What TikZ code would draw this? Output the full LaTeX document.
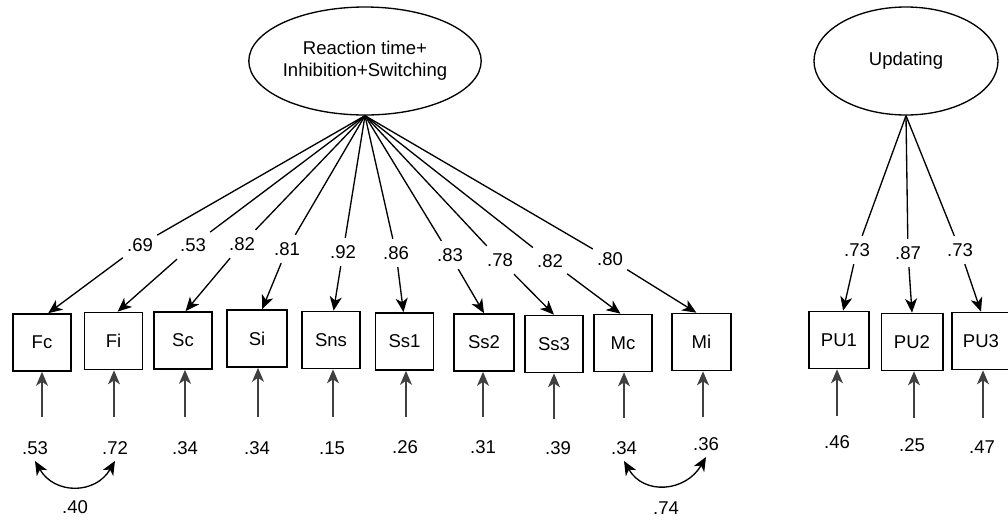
\documentclass[tikz,border=0pt]{standalone}
\usepackage{fontspec}
\setmainfont{Liberation Sans}
\usetikzlibrary{arrows.meta,shapes.geometric}
\begin{document}
\begin{tikzpicture}[x=0.75pt,y=-0.75pt,
  every node/.style={font=\fontsize{13.9}{16.5}\selectfont},
  latent/.style={draw, ellipse, line width=1pt, minimum width=138pt,
    minimum height=81pt, inner sep=0pt, align=center},
  obs/.style={draw, rectangle, line width=1.25pt, minimum width=43.5pt,
    minimum height=42.75pt, inner sep=0pt},
  load/.style={inner xsep=3pt, inner ysep=5.5pt},
  errlab/.style={inner xsep=1pt, inner ysep=4.6pt},
  lnk/.style={line width=1pt},
  arr/.style={line width=1pt, -{Stealth[length=10.5pt,width=9pt,inset=3pt]}},
  earr/.style={line width=1pt, black!75, -{Stealth[length=10.5pt,width=9pt,inset=3pt]}},
  cov/.style={line width=1pt, {Stealth[length=10.5pt,width=9pt,inset=3pt]}-{Stealth[length=10.5pt,width=9pt,inset=3pt]}}
]
% canvas
\fill[white] (0,0) rectangle (1008,519);
\useasboundingbox (0,0) rectangle (1008,519);

% latent factors
\node[latent] (RT) at (365,61) {Reaction time+\\Inhibition+Switching};
\node[latent] (UP) at (906,61) {Updating};

% observed indicators
\node[obs] (Fc)  at (42,342.5)  {Fc};
\node[obs] (Fi)  at (113.5,341) {Fi};
\node[obs] (Sc)  at (183,340.5) {Sc};
\node[obs, minimum width=45pt] (Si) at (257,338.5) {Si};
\node[obs] (Sns) at (331,340)   {Sns};
\node[obs] (Ss1) at (404.5,341.5) {Ss1};
\node[obs, minimum width=45pt] (Ss2) at (484,342.5) {Ss2};
\node[obs] (Ss3) at (554,344)   {Ss3};
\node[obs] (Mc)  at (623,343)   {Mc};
\node[obs, minimum width=44pt] (Mi) at (701.5,342) {Mi};
\node[obs, minimum width=45pt] (PU1) at (839,340) {PU1};
\node[obs, minimum width=46pt] (PU2) at (912,342) {PU2};
\node[obs] (PU3) at (981,341)   {PU3};

% factor loadings
\node[load] (l1)  at (140,245) {.69};
\node[load] (l2)  at (193,245) {.53};
\node[load] (l3)  at (242,244) {.82};
\node[load] (l4)  at (287,249) {.81};
\node[load] (l5)  at (343,252) {.92};
\node[load] (l6)  at (396,253) {.86};
\node[load] (l7)  at (450,255) {.83};
\node[load] (l8)  at (500,260) {.78};
\node[load] (l9)  at (550,261) {.82};
\node[load] (l10) at (610,259) {.80};
\node[load] (m1)  at (857,250) {.73};
\node[load] (m2)  at (908,253) {.87};
\node[load] (m3)  at (960,250) {.73};

\foreach \l/\b in {l1/Fc.78, l2/Fi.82, l3/Sc.85, l4/Si.80, l5/Sns.85,
                   l6/Ss1.92, l7/Ss2.north, l8/Ss3.north, l9/Mc.95, l10/Mi.100}{
  \draw[lnk] (RT.south) -- (\l);
  \draw[arr] (\l) -- (\b);
}
\foreach \l/\b in {m1/PU1.82, m2/PU2.north, m3/PU3.north}{
  \draw[lnk] (UP.south) -- (\l);
  \draw[arr] (\l) -- (\b);
}

% residual variances
\node[errlab] (e1)  at (35,448)  {.53};
\node[errlab] (e2)  at (115,448) {.72};
\node[errlab] (e3)  at (185,448) {.34};
\node[errlab] (e4)  at (257,448) {.34};
\node[errlab] (e5)  at (332,448) {.15};
\node[errlab] (e6)  at (405,447) {.26};
\node[errlab] (e7)  at (483,447) {.31};
\node[errlab] (e8)  at (558,448) {.39};
\node[errlab] (e9)  at (624,448) {.34};
\node[errlab] (e10) at (706,444) {.36};
\node[errlab] (p1)  at (837,442) {.46};
\node[errlab] (p2)  at (912,445) {.25};
\node[errlab] (p3)  at (982,447) {.47};

\coordinate (u1)  at (42,417);
\coordinate (u2)  at (114,417);
\coordinate (u3)  at (185,417);
\coordinate (u4)  at (258,417);
\coordinate (u5)  at (333,417);
\coordinate (u6)  at (406,417);
\coordinate (u7)  at (483,417);
\coordinate (u8)  at (554,419);
\coordinate (u9)  at (624,418);
\coordinate (u10) at (703,417);
\coordinate (v1)  at (837,416);
\coordinate (v2)  at (914,418);
\coordinate (v3)  at (983,418);

\foreach \u/\b in {u1/Fc, u2/Fi, u3/Sc, u4/Si, u5/Sns, u6/Ss1, u7/Ss2,
                   u8/Ss3, u9/Mc, u10/Mi, v1/PU1, v2/PU2, v3/PU3}{
  \draw[earr] (\u) -- (\u |- \b.south);
}

% residual covariances
\draw[cov] (e1.south) to[out=-60,in=-120,looseness=1.25] (e2.south);
\draw[cov] (e9.south) to[out=-60,in=-120,looseness=1.25] (e10.south);
\node (c1) at (75,507)  {.40};
\node (c2) at (666,508) {.74};
\end{tikzpicture}
\end{document}
